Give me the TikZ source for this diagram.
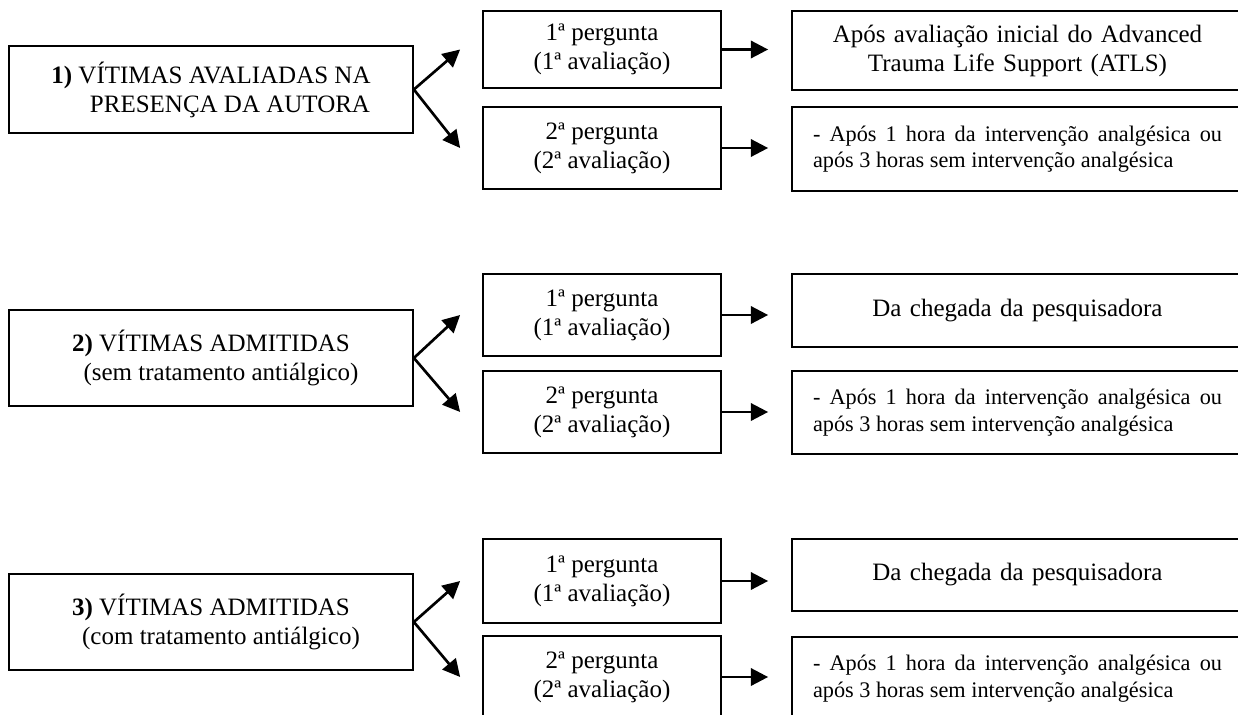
\documentclass[tikz,border=0pt]{standalone}
\usepackage{fontspec}
\setmainfont{Liberation Serif}
\usetikzlibrary{arrows.meta}

\tikzset{
  caixa/.style={draw, line width=1.3pt, inner sep=0pt, align=center,
    font=\fontsize{18.75pt}{21.75pt}\selectfont},
  vitima/.style={caixa, minimum width=303pt},
  pergunta/.style={caixa, minimum width=178.5pt},
  momento/.style={caixa, text width=306.75pt, inner xsep=15.75pt},
  momentojust/.style={momento, align=justify,
    font=\fontsize{16.7pt}{20pt}\selectfont},
  seta/.style={line width=2pt, -{Triangle[length=13pt,width=13pt]}}
}

\begin{document}
\begin{tikzpicture}[x=0.75pt,y=-0.75pt]
        \path[use as bounding box, clip] (0,0) rectangle (1238,714);
        % grupo 1
        \node[vitima, minimum height=65.25pt] (v1) at (211,89.5)
          {\textbf{1)} VÍTIMAS AVALIADAS NA\\\hspace*{28.5pt}PRESENÇA DA AUTORA};
        \node[pergunta, minimum height=57.75pt] (p1a) at (602,49.5) {1ª pergunta\\(1ª avaliação)};
        \node[pergunta, minimum height=61.5pt]  (p1b) at (602,148)  {2ª pergunta\\(2ª avaliação)};
        \node[momento, minimum height=59.25pt]  (m1a) at (1017.5,50.5)
          {Após avaliação inicial do Advanced\\Trauma Life Support (ATLS)};
        \node[momentojust, minimum height=63pt] (m1b) at (1017.5,149)
          {- Após 1 hora da intervenção analgésica ou\linebreak após 3 horas sem intervenção analgésica};
        % grupo 2
        \node[vitima, minimum height=72pt] (v2) at (211,358)
          {\textbf{2)} VÍTIMAS ADMITIDAS\\\hspace*{15pt}(sem tratamento antiálgico)};
        \node[pergunta, minimum height=61.5pt] (p2a) at (602,315) {1ª pergunta\\(1ª avaliação)};
        \node[pergunta, minimum height=61.5pt] (p2b) at (602,412) {2ª pergunta\\(2ª avaliação)};
        \node[momento, minimum height=54.75pt] (m2a) at (1017.5,310.5) {Da chegada da pesquisadora};
        \node[momentojust, minimum height=62.25pt] (m2b) at (1017.5,412.5)
          {- Após 1 hora da intervenção analgésica ou\linebreak após 3 horas sem intervenção analgésica};
        % grupo 3
        \node[vitima, minimum height=72pt] (v3) at (211,622)
          {\textbf{3)} VÍTIMAS ADMITIDAS\\\hspace*{15pt}(com tratamento antiálgico)};
        \node[pergunta, minimum height=63pt]   (p3a) at (602,581) {1ª pergunta\\(1ª avaliação)};
        \node[pergunta, minimum height=61.5pt] (p3b) at (602,677) {2ª pergunta\\(2ª avaliação)};
        \node[momento, minimum height=54pt] (m3a) at (1017.5,575) {Da chegada da pesquisadora};
        \node[momentojust, minimum height=62.25pt] (m3b) at (1017.5,678.5)
          {- Após 1 hora da intervenção analgésica ou\linebreak após 3 horas sem intervenção analgésica};
        % setas
        \draw[seta] (v1.east) -- ([xshift=-16.5pt]p1a.west);
        \draw[seta] (v1.east) -- ([xshift=-16.5pt]p1b.west);
        \draw[seta] (v2.east) -- ([xshift=-16.5pt]p2a.west);
        \draw[seta] (v2.east) -- ([xshift=-16.5pt]p2b.west);
        \draw[seta] (v3.east) -- ([xshift=-16.5pt]p3a.west);
        \draw[seta] (v3.east) -- ([xshift=-16.5pt]p3b.west);
        \draw[seta, shorten >=17.25pt] (p1a.east) -- (p1a.east -| m1a.west);
        \draw[seta, shorten >=17.25pt] (p1b.east) -- (p1b.east -| m1b.west);
        \draw[seta, shorten >=17.25pt] (p2a.east) -- (p2a.east -| m2a.west);
        \draw[seta, shorten >=17.25pt] (p2b.east) -- (p2b.east -| m2b.west);
        \draw[seta, shorten >=17.25pt] (p3a.east) -- (p3a.east -| m3a.west);
        \draw[seta, shorten >=17.25pt] (p3b.east) -- (p3b.east -| m3b.west);
\end{tikzpicture}
\end{document}
